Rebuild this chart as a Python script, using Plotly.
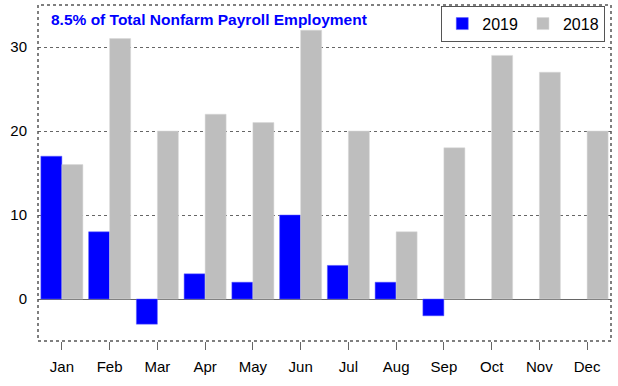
import plotly.graph_objects as go

months = ["Jan", "Feb", "Mar", "Apr", "May", "Jun", "Jul", "Aug", "Sep", "Oct", "Nov", "Dec"]
v2019 = [17, 8, -3, 3, 2, 10, 4, 2, -2, None, None, None]
v2018 = [16, 31, 20, 22, 21, 32, 20, 8, 18, 29, 27, 20]
y_ticks = [0, 10, 20, 30]

fig = go.Figure()
fig.add_trace(go.Bar(x=months, y=v2019, name="2019", marker=dict(color="#0000FF", line=dict(color="#6060ff", width=0.5))))
fig.add_trace(go.Bar(x=months, y=v2018, name="2018", marker=dict(color="#BEBEBE", line=dict(color="#d8d8d8", width=0.5))))

fig.update_layout(
    width=618, height=386,
    margin=dict(l=38, r=7, t=5, b=45, autoexpand=False),
    paper_bgcolor="white", plot_bgcolor="white",
    barmode="group", bargap=0.12, bargroupgap=0,
    font=dict(family="Liberation Sans, Arial", size=15, color="black"),
    showlegend=True,
    legend=dict(orientation="h", x=0.99, xanchor="right", y=0.998, yanchor="top",
                bordercolor="#555", borderwidth=1, bgcolor="white",
                font=dict(size=16), itemwidth=30, tracegroupgap=0),
    annotations=[dict(text="<b>8.5% of Total Nonfarm Payroll Employment</b>", x=0.02, xref="paper",
                      y=0.988, yref="paper", xanchor="left", yanchor="top", showarrow=False,
                      font=dict(color="#0000FF", size=15.5))],
    shapes=[dict(type="rect", xref="paper", yref="paper", x0=0, x1=1, y0=0, y1=1,
                 line=dict(color="#555", width=1.5, dash="dot"))],
)
fig.update_xaxes(showgrid=False, ticks="outside", ticklen=8, tickcolor="#666", tickwidth=1,
                 showline=False, ticklabelstandoff=4, automargin=False)
fig.update_yaxes(range=[-5, 35], tickvals=y_ticks, showgrid=True, gridcolor="#666", griddash="dot",
                 gridwidth=1, zeroline=True, zerolinecolor="#666", zerolinewidth=1,
                 showline=False, ticks="", ticklabelstandoff=10, automargin=False)
fig.write_html("out.html", post_script="document.body.style.margin='0';",
               config={"displayModeBar": False})
